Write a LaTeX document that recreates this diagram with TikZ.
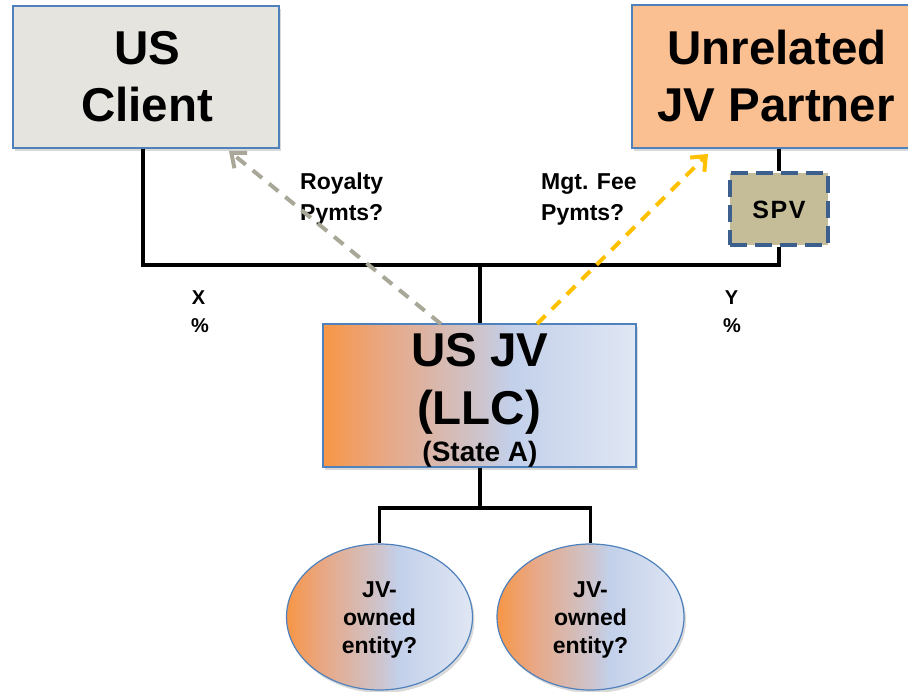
\documentclass[tikz,border=0pt]{standalone}
\usepackage{fontspec}
\setmainfont{Liberation Sans}
\usetikzlibrary{arrows.meta,shadows,shapes.geometric}

\definecolor{clientfill}{HTML}{E6E4DF}
\definecolor{partnerfill}{HTML}{FAC092}
\definecolor{spvfill}{HTML}{C4BD97}
\definecolor{spvline}{HTML}{3D5F8E}
\definecolor{edgeblue}{HTML}{4F81BD}
\definecolor{royaltygray}{HTML}{A9A898}
\definecolor{feeyellow}{HTML}{FFC000}
\definecolor{jvA}{HTML}{F79646}
\definecolor{jvB}{HTML}{E8A886}
\definecolor{jvC}{HTML}{CDC4CC}
\definecolor{jvD}{HTML}{C3D0EA}
\definecolor{jvE}{HTML}{E0E7F4}

% orange-to-pale-blue fill used for the JV and its entities
% (the visible part of a TikZ shading runs from 25bp to 75bp)
\pgfdeclarehorizontalshading{jvshade}{100bp}{%
  color(0bp)=(jvA);
  color(25bp)=(jvA);
  color(35bp)=(jvB);
  color(50bp)=(jvC);
  color(55bp)=(jvD);
  color(75bp)=(jvE);
  color(100bp)=(jvE)}

\tikzset{
  entitybox/.style={draw=edgeblue, line width=1.2pt, inner sep=0pt,
    drop shadow={opacity=0.3, shadow xshift=2pt, shadow yshift=-3pt}},
  bigtxt/.style={font=\fontsize{47.5}{47.5}\selectfont\bfseries, anchor=base, inner sep=0pt},
  midtxt/.style={font=\fontsize{23}{23}\selectfont\bfseries, anchor=base, inner sep=0pt},
  smalltxt/.style={font=\fontsize{20}{20}\selectfont\bfseries, anchor=base, inner sep=0pt},
  owner/.style={line width=3.8pt, black},
  payment/.style={line width=4pt, dash pattern=on 12pt off 9pt,
    -{Straight Barb[length=12pt, width=20pt, line width=4pt]}},
}

\begin{document}
\begin{tikzpicture}[x=1pt, y=-1pt]
\clip (0,0) rectangle (908,692);
\useasboundingbox (0,0) rectangle (908,692);

% parties
\node[entitybox, fill=clientfill, minimum width=266pt, minimum height=142pt]
  (client) at (146,77) {};
\node[bigtxt] (clientA) at (147,65) {US};
\node[bigtxt] (clientB) at (147,122) {Client};

\node[entitybox, fill=partnerfill, minimum width=290pt, minimum height=143pt]
  (partner) at (777,76.5) {};
\node[bigtxt] (partnerA) at (777,65) {Unrelated};
\node[bigtxt] (partnerB) at (776,122) {JV Partner};

\node[draw=spvline, fill=spvfill, line width=4pt, dash pattern=on 17pt off 8pt,
  minimum width=98pt, minimum height=72pt, inner sep=0pt] (spv) at (779,209) {};
\node[midtxt, font=\fontsize{25}{25}\selectfont\bfseries] (spvtxt) at (779,218.5)
  {S\kern1.5pt P\kern1.5pt V};

% ownership bar
\coordinate (barL) at (143,265);
\coordinate (barC) at (480,265);
\coordinate (barR) at (779,265);
\draw[owner] (client.south -| barL) -- (barL) -- (barR) -- (spv.south);
\draw[owner] (partner.south -| spv.north) -- (spv.north);

% the JV
\node[entitybox, shading=jvshade, minimum width=313pt, minimum height=143pt]
  (jv) at (479.5,395.5) {};
\draw[owner] (barC) -- (jv.north -| barC);
\node[bigtxt] (jvA) at (480,367) {US JV};
\node[bigtxt] (jvB) at (479,425) {(LLC)};
\node[midtxt, font=\fontsize{28}{28}\selectfont\bfseries] (jvC) at (480,462) {(State A)};

% percentages
\node[smalltxt] (xa) at (198.5,305) {X};
\node[smalltxt] (xb) at (200,333) {\%};
\node[smalltxt] (ya) at (731.5,305) {Y};
\node[smalltxt] (yb) at (732,333) {\%};

% payment labels
\node[midtxt, anchor=base west] (roy1) at (300,190) {Royalty};
\node[midtxt, anchor=base west] (roy2) at (300,221) {Pymts?};
\node[midtxt, anchor=base west] (fee1) at (541,190) {Mgt. Fee};
\node[midtxt, anchor=base west] (fee2) at (541,221) {Pymts?};

% payment flows
\coordinate (royS) at (441,324);
\coordinate (royE) at (229,151);
\coordinate (feeS) at (537,324);
\coordinate (feeE) at (708,154);
\draw[payment, royaltygray] (royS) -- (royE);
\draw[payment, feeyellow] (feeS) -- (feeE);

% JV-owned entities
\node[entitybox, ellipse, shading=jvshade, minimum width=186pt, minimum height=146pt]
  (ent1) at (379.5,617) {};
\node[entitybox, ellipse, shading=jvshade, minimum width=187pt, minimum height=146pt]
  (ent2) at (590.5,617) {};
\coordinate (splitC) at (480,508);
\draw[owner] (jv.south -| splitC) -- (splitC);
\draw[owner] (ent1.north) -- (ent1.north |- splitC) -- (ent2.north |- splitC) -- (ent2.north);

\foreach \e/\x in {ent1/379.5, ent2/590.5} {
  \node[midtxt] (\e a) at (\x,597) {JV-};
  \node[midtxt] (\e b) at (\x,625) {owned};
  \node[midtxt] (\e c) at (\x,653) {entity?};
}
\end{tikzpicture}
\end{document}
